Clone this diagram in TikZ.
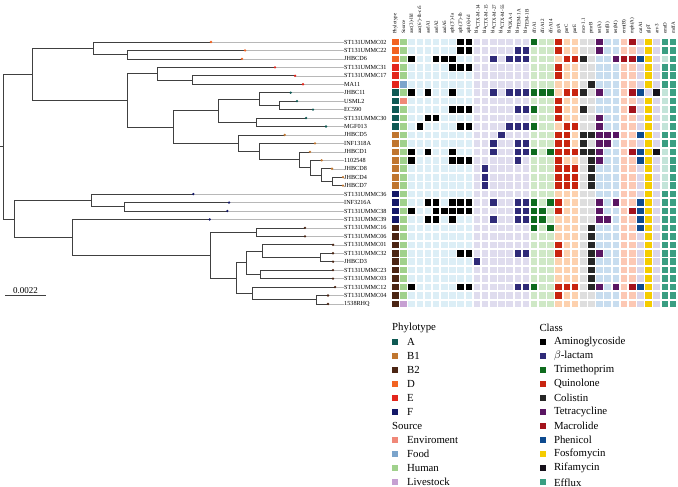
\documentclass[tikz,border=0pt]{standalone}
\usepackage{fontspec}
\setmainfont{Liberation Serif}
\usetikzlibrary{positioning}

% phylotype / source
\definecolor{phA}{HTML}{0E5953}
\definecolor{phBa}{HTML}{C0762F}
\definecolor{phBb}{HTML}{4B2513}
\definecolor{phD}{HTML}{F26322}
\definecolor{phE}{HTML}{E3261C}
\definecolor{phF}{HTML}{141868}
\definecolor{srEnv}{HTML}{F08878}
\definecolor{srFood}{HTML}{7BA4CB}
\definecolor{srHum}{HTML}{A0D18C}
\definecolor{srLiv}{HTML}{C6A0D2}
% class colours (present / absent)
\definecolor{cAmi}{HTML}{000000} \definecolor{bAmi}{HTML}{DCEEF6}
\definecolor{cBla}{HTML}{2F2A78} \definecolor{bBla}{HTML}{DFDCEE}
\definecolor{cTri}{HTML}{0E6B1E} \definecolor{bTri}{HTML}{CFE8C6}
\definecolor{cQui}{HTML}{C8240F} \definecolor{bQui}{HTML}{FDD1AE}
\definecolor{cCol}{HTML}{262626} \definecolor{bCol}{HTML}{DEDEDE}
\definecolor{cTet}{HTML}{5A1662} \definecolor{bTet}{HTML}{C8DDEF}
\definecolor{cMac}{HTML}{A3121C} \definecolor{bMac}{HTML}{FCC8B4}
\definecolor{cPhe}{HTML}{0D4A8F} \definecolor{bPhe}{HTML}{DAD5EA}
\definecolor{cFos}{HTML}{F5CC00} \definecolor{bFos}{HTML}{DAD5EA}
\definecolor{cRif}{HTML}{15101A} \definecolor{bRif}{HTML}{DAD5EA}
\definecolor{cEff}{HTML}{3A9E82} \definecolor{bEff}{HTML}{C3E4D9}

\foreach \ka/\kb/\cOn/\cOff in {2/9/cAmi/bAmi, 10/16/cBla/bBla, 17/19/cTri/bTri,
    20/22/cQui/bQui, 23/24/cCol/bCol, 25/27/cTet/bTet, 28/29/cMac/bMac,
    30/30/cPhe/bPhe, 31/31/cFos/bFos, 32/32/cRif/bRif, 33/34/cEff/bEff}
  {\foreach \k in {\ka,...,\kb}{\xglobal\colorlet{on\k}{\cOn}\xglobal\colorlet{off\k}{\cOff}}}

\begin{document}
\begin{tikzpicture}[x = 1pt, y = -1pt,
                    branch/.style = {draw = black!75, line width = 0.7pt},
                    ext/.style    = {draw = black!28, line width = 0.5pt},
                    tipdot/.style = {circle, inner sep = 0pt, minimum size = 2.6pt},
                    cell/.style   = {rectangle, inner sep = 0pt, minimum size = 6.6pt},
                    leaf/.style   = {anchor = west, inner sep = 0pt, font = \fontsize{6.2}{7}\selectfont},
                    hdr/.style    = {rotate = 90, anchor = west, inner sep = 0pt, font = \fontsize{5}{6}\selectfont},
                    ttl/.style    = {anchor = west, inner sep = 0pt, font = \fontsize{10.8}{12}\selectfont},
                    lgbox/.style  = {rectangle, inner sep = 0pt, minimum size = 6pt},
                    lgtxt/.style  = {anchor = west, inner sep = 0pt, font = \fontsize{10.8}{12}\selectfont}
                    ]
    \useasboundingbox (0, 0) rectangle (678, 487);

    % tips
    \foreach \r/\tx in {1/211, 2/245, 3/242, 4/275, 5/295, 6/303, 7/290.7, 8/297, 9/313, 10/306,
                        11/326, 12/284.7, 13/315, 14/310, 15/321.7, 16/332, 17/343, 18/343,
                        19/193.3, 20/229, 21/227.3, 22/209.7, 23/305, 24/305, 25/333, 26/333,
                        27/333, 28/333, 29/333, 30/335, 31/328, 32/328}
        \coordinate (t\r) at (\tx, {42 + 8.45*(\r - 1)});

    % inner nodes of the tree
    \foreach \n/\x/\y in {u23/127.3/54.68, u123/93/48.34, u56/192/80.03, u456/157/73.69,
                          u89/279.3/105.38, u789/259.3/99.04, u1011/256/122.28, u711/218.7/110.66,
                          u1718/332/181.43, u1618/321.7/175.09, u1518/310/167.7, u1418/299.5/159.77,
                          u1318/259.3/151.59, u1218/238.7/143.27, u718/173.3/126.97, u418/127.7/100.33,
                          u118/32/74.34,
                          l2021/124.7/206.78, l1921/91.3/200.44, l2324/256.7/232.13, l2627/320.7/257.48,
                          l2527/262.7/251.14, l2829/260.7/274.38, l2529/246.7/262.76, l3132/316.7/299.73,
                          l3032/252.3/293.39, l2532/236/278.08, l2332/210.7/255.11, l2232/72/237.28,
                          l1932/14.7/218.86, root/3.7/146.6}
        \coordinate (\n) at (\x, \y);
    \coordinate (rt0) at (0, 146.6);

    \foreach \p/\c in {u23/t2, u23/t3, u123/t1, u123/u23, u56/t5, u56/t6, u456/t4, u456/u56,
                       u89/t8, u89/t9, u789/t7, u789/u89, u1011/t10, u1011/t11, u711/u789, u711/u1011,
                       u1718/t17, u1718/t18, u1618/t16, u1618/u1718, u1518/t15, u1518/u1618,
                       u1418/t14, u1418/u1518, u1318/t13, u1318/u1418, u1218/t12, u1218/u1318,
                       u718/u711, u718/u1218, u418/u456, u418/u718, u118/u123, u118/u418,
                       l2021/t20, l2021/t21, l1921/t19, l1921/l2021, l2324/t23, l2324/t24,
                       l2627/t26, l2627/t27, l2527/t25, l2527/l2627, l2829/t28, l2829/t29,
                       l2529/l2527, l2529/l2829, l3132/t31, l3132/t32, l3032/t30, l3032/l3132,
                       l2532/l2529, l2532/l3032, l2332/l2324, l2332/l2532, l2232/t22, l2232/l2332,
                       l1932/l1921, l1932/l2232, root/u118, root/l1932}
        \draw[branch] (\p) |- (\c);
    \draw[branch] (root) -- (rt0);

    % leaves, phylotype and source
    \foreach \r/\nm/\ph/\src in {1/ST131UMMC02/phD/srHum, 2/ST131UMMC22/phD/srHum, 3/JHBCD6/phD/srHum,
                                 4/ST131UMMC31/phE/srHum, 5/ST131UMMC17/phE/srHum, 6/MA11/phE/srFood,
                                 7/JHBC11/phA/srHum, 8/USML2/phA/srEnv, 9/EC590/phA/srHum,
                                 10/ST131UMMC30/phA/srHum, 11/MGF013/phA/srHum, 12/JHBCD5/phBa/srHum,
                                 13/INF1318A/phBa/srHum, 14/JHBCD1/phBa/srHum, 15/1102548/phBa/srHum,
                                 16/JHBCD8/phBa/srHum, 17/JHBCD4/phBa/srHum, 18/JHBCD7/phBa/srHum,
                                 19/ST131UMMC36/phF/srHum, 20/INF3216A/phF/srHum, 21/ST131UMMC38/phF/srHum,
                                 22/ST131UMMC39/phF/srHum, 23/ST131UMMC16/phBb/srHum, 24/ST131UMMC06/phBb/srHum,
                                 25/ST131UMMC01/phBb/srHum, 26/ST131UMMC32/phBb/srHum, 27/JHBCD3/phBb/srHum,
                                 28/ST131UMMC23/phBb/srHum, 29/ST131UMMC03/phBb/srHum, 30/ST131UMMC12/phBb/srHum,
                                 31/ST131UMMC04/phBb/srHum, 32/1538RHQ/phBb/srLiv}
    {
        \node[leaf] (n\r) at (344, {42 + 8.45*(\r - 1)}) {\nm};
        \draw[ext] (t\r) -- (n\r.west);
        \node[tipdot, fill = \ph] (d\r) at (t\r) {};
        \node[cell, fill = \ph] (ph\r) at (395.3, {42 + 8.45*(\r - 1)}) {};
        \node[cell, fill = \src] (sr\r) at (403.47, {42 + 8.45*(\r - 1)}) {};
    }

    % gene matrix
    \foreach \r in {1,...,32}
        \foreach \k in {2,...,34}
            \node[cell, fill = off\k] (c\r-\k) at ({395.3 + 8.17*\k}, {42 + 8.45*(\r - 1)}) {};

    \foreach \r/\ks in {1/{8,9,17,20,25,29,31,33,34},
                        2/{8,9,15,16,20,25,31,33,34},
                        3/{2,5,6,7,12,14,15,16,21,22,23,27,28,29,30,31,34},
                        4/{7,8,9,20,31,33,34},
                        5/{20,31,33,34},
                        6/{24,31,33,34},
                        7/{2,4,7,12,14,15,16,17,18,19,21,22,23,25,29,30,32,34},
                        8/{20,31,34},
                        9/{7,8,9,15,16,17,20,23,29,31,34},
                        10/{4,5,20,25,31,34},
                        11/{3,8,9,14,15,16,17,21,22,25,31,34},
                        12/{13,20,21,23,24,25,26,27,30,31,33,34},
                        13/{12,15,16,20,21,23,25,26,31,33,34},
                        14/{2,4,7,12,15,16,17,19,20,21,22,23,24,25,29,30,31,32,34},
                        15/{2,7,8,9,15,20,24,25,30,31,34},
                        16/{11,20,21,22,24,31,34},
                        17/{11,20,21,22,24,31,34},
                        18/{11,20,21,22,24,31,34},
                        19/{31,33,34},
                        20/{4,5,7,8,9,12,15,16,17,19,20,25,27,30,31,33,34},
                        21/{2,5,6,7,8,9,15,16,17,18,20,25,29,30,31,33,34},
                        22/{4,5,7,12,15,16,17,18,25,26,30,31,33,34},
                        23/{17,19,24,30,31,33,34},
                        24/{24,31,33,34},
                        25/{20,24,31,33,34},
                        26/{8,9,15,16,20,24,25,31,33,34},
                        27/{10,24,31,33,34},
                        28/{24,31,33,34},
                        29/{24,31,33,34},
                        30/{2,8,9,15,16,17,20,21,22,24,25,27,29,30,31,33,34},
                        31/{20,31,33,34},
                        32/{31,33,34}}
        \foreach \k in \ks
            \node[cell, fill = on\k] (p\r-\k) at (c\r-\k) {};

    % column heads
    \foreach \k/\lab in {0/Phylotype, 1/Source, 2/{aac(3)-IId}, 3/{aac(6')-Ib-cr5}, 4/aadA1, 5/aadA2,
                         6/aadA5, 7/{aph(3')-Ia}, 8/{aph(3'')-Ib}, 9/{aph(6)-Id},
                         10/{bla\textsubscript{CTX-M-14}}, 11/{bla\textsubscript{CTX-M-15}},
                         12/{bla\textsubscript{CTX-M-27}}, 13/{bla\textsubscript{CTX-M-55}},
                         14/{bla\textsubscript{OXA-1}}, 15/{bla\textsubscript{TEM-1A}},
                         16/{bla\textsubscript{TEM-1B}}, 17/dfrA1, 18/dfrA12, 19/dfrA14,
                         20/gyrA, 21/parC, 22/parE, 23/mcr-1.1, 24/pmrB, 25/tet(A), 26/tet(B),
                         27/tet(M), 28/erm(B), 29/mph(A), 30/catA1, 31/glpT, 32/arr-3, 33/emrD, 34/mdfA}
        \node[hdr] (h\k) at ({395.3 + 8.17*\k}, 34) {\lab};

    % scale bar
    \coordinate (sbL) at (5, 295);
    \coordinate (sbR) at (46, 295);
    \draw[branch] (sbL) -- (sbR) node[midway, above = 1.5pt, inner sep = 0pt, font = \fontsize{9}{10}\selectfont] (sbT) {0.0022};

    % legend
    \node[ttl] (lgP) at (392, 327.7) {Phylotype};
    \foreach \i/\c/\t in {0/phA/A, 1/phBa/B1, 2/phBb/B2, 3/phD/D, 4/phE/E, 5/phF/F,
                          7/srEnv/Enviroment, 8/srFood/Food, 9/srHum/Human, 10/srLiv/Livestock}
    {
        \node[lgbox, fill = \c] (kp\i) at (395.3, {341.7 + 14.06*\i}) {};
        \node[lgtxt, right = 8.4pt of kp\i] (tp\i) {\t};
    }
    \node[ttl] (lgS) at (392, 426.1) {Source};

    \node[ttl] (lgC) at (539.3, 327.7) {Class};
    \foreach \i/\c/\t in {0/cAmi/Aminoglycoside, 1/cBla/{$\beta$-lactam}, 2/cTri/Trimethoprim,
                          3/cQui/Quinolone, 4/cCol/Colistin, 5/cTet/Tetracycline, 6/cMac/Macrolide,
                          7/cPhe/Phenicol, 8/cFos/Fosfomycin, 9/cRif/Rifamycin, 10/cEff/Efflux}
    {
        \node[lgbox, fill = \c] (kc\i) at (542.5, {341.7 + 14.06*\i}) {};
        \node[lgtxt, right = 8.1pt of kc\i] (tc\i) {\t};
    }
\end{tikzpicture}
\end{document}
